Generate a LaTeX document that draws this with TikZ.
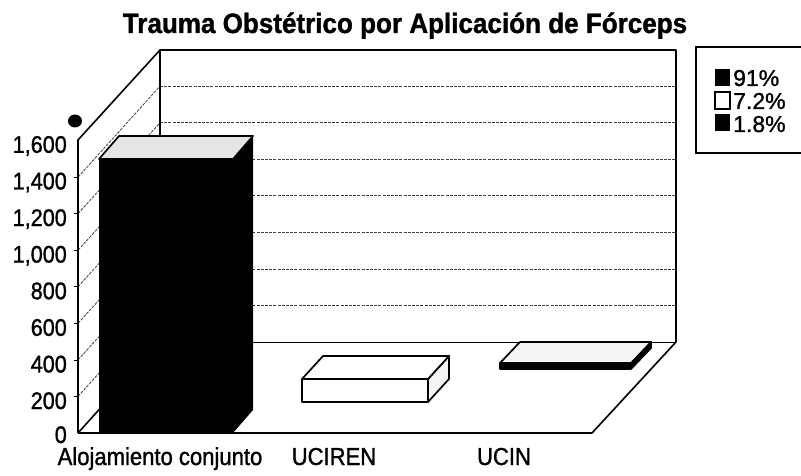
\documentclass[tikz,border=0pt]{standalone}
\usepackage{fontspec}
\setmainfont{Liberation Sans}
\newfontfamily\labfont[FakeStretch=0.9,FakeBold=1.2]{Liberation Sans}
\newfontfamily\legfont[FakeBold=1.0]{Liberation Sans}
\newfontfamily\titfont[FakeStretch=0.93,FakeBold=1.2]{Liberation Sans}
\begin{document}
\begin{tikzpicture}[x=1pt,y=-1pt,
  frame/.style={line width=1.6pt, line join=round},
  gridline/.style={line width=0.8pt, dash pattern=on 3pt off 1.2pt, black!75},
  ylab/.style={anchor=base east, inner sep=0pt, font=\labfont\fontsize{24}{24}\selectfont},
  clab/.style={anchor=base, inner sep=0pt, font=\labfont\fontsize{24.5}{24.5}\selectfont},
  leglab/.style={anchor=base west, inner sep=0pt, text height=16.5pt, text depth=1pt, font=\legfont\fontsize{23}{23}\selectfont},
  barline/.style={line width=1.7pt, line join=round},
  legsq/.style={line width=1.2pt}
]
\clip (0,0) rectangle (801,476);
\fill[white] (0,0) rectangle (801,476);

% title
\node[anchor=base, inner sep=0pt, font=\titfont\bfseries\fontsize{28}{28}\selectfont] (title) at (405,33) {Trauma Obstétrico por Aplicación de Fórceps};

% back wall and left wall gridlines
\foreach \k in {1,...,7} {
  \pgfmathsetmacro{\yb}{342-36.55*\k}
  \pgfmathsetmacro{\yf}{433-36.55*\k}
  \draw[gridline] (160,\yb) -- (676,\yb);
  \draw[gridline] (78,\yf) -- (160,\yb);
  \draw[line width=0.8pt] (74,\yf) -- (78,\yf);
}
\draw[line width=1pt] (160,342) -- (676,342);

% walls and floor
\draw[frame] (160,342) -- (160,50) -- (676,50) -- (676,342);
\draw[frame] (78,433) -- (78,140) -- (160,50);
\draw[frame] (78,433) -- (160,342);
\draw[frame] (78,433) -- (592,433) -- (676,342);

% black dot
\fill (75,121) ellipse (7pt and 6.5pt);

% y labels
\foreach \v/\t in {1/200,2/400,3/600,4/800,5/{1,000},6/{1,200},7/{1,400},8/{1,600}} {
  \node[ylab] (y\v) at (67,{433-36.6*\v+12.6}) {\t};
}
\node[ylab] (y0) at (67,443) {0};

% category labels
\node[clab] (c1) at (160,465) {Alojamiento conjunto};
\node[clab] (c2) at (334,465) {UCIREN};
\node[clab] (c3) at (504,465) {UCIN};

% bar 1 (black, front row)
\fill[black] (99,433) -- (233,433) -- (253,410) -- (253,136) -- (233,159) -- (99,159) -- cycle;
\filldraw[barline, fill=black!10] (99,159) -- (233,159) -- (253,136) -- (119,136) -- cycle;

% bar 2 (white, middle row)
\filldraw[barline, fill=black!4] (428,402) -- (449,379) -- (449,356) -- (428,379) -- cycle;
\filldraw[barline, fill=white] (302,379) -- (428,379) -- (449,356) -- (323,356) -- cycle;
\filldraw[barline, fill=white] (302,379) rectangle (428,402);

% bar 3 (black, back row)
\filldraw[barline, fill=black] (500,363) -- (631,363) -- (651,342) -- (651,348) -- (631,369) -- (500,369) -- cycle;
\filldraw[barline, fill=black!4] (500,363) -- (631,363) -- (651,342) -- (520,342) -- cycle;

% legend
\draw[line width=1.3pt] (696,47) rectangle (812,153);
\fill[black] (715,69) rectangle (730,86);
\draw[legsq] (715,92) rectangle (730,109);
\fill[black] (715,114) rectangle (730,131);
\node[leglab] (l1) at (733,86) {91\%};
\node[leglab] (l2) at (733,109) {7.2\%};
\node[leglab] (l3) at (733,132) {1.8\%};
\end{tikzpicture}
\end{document}
